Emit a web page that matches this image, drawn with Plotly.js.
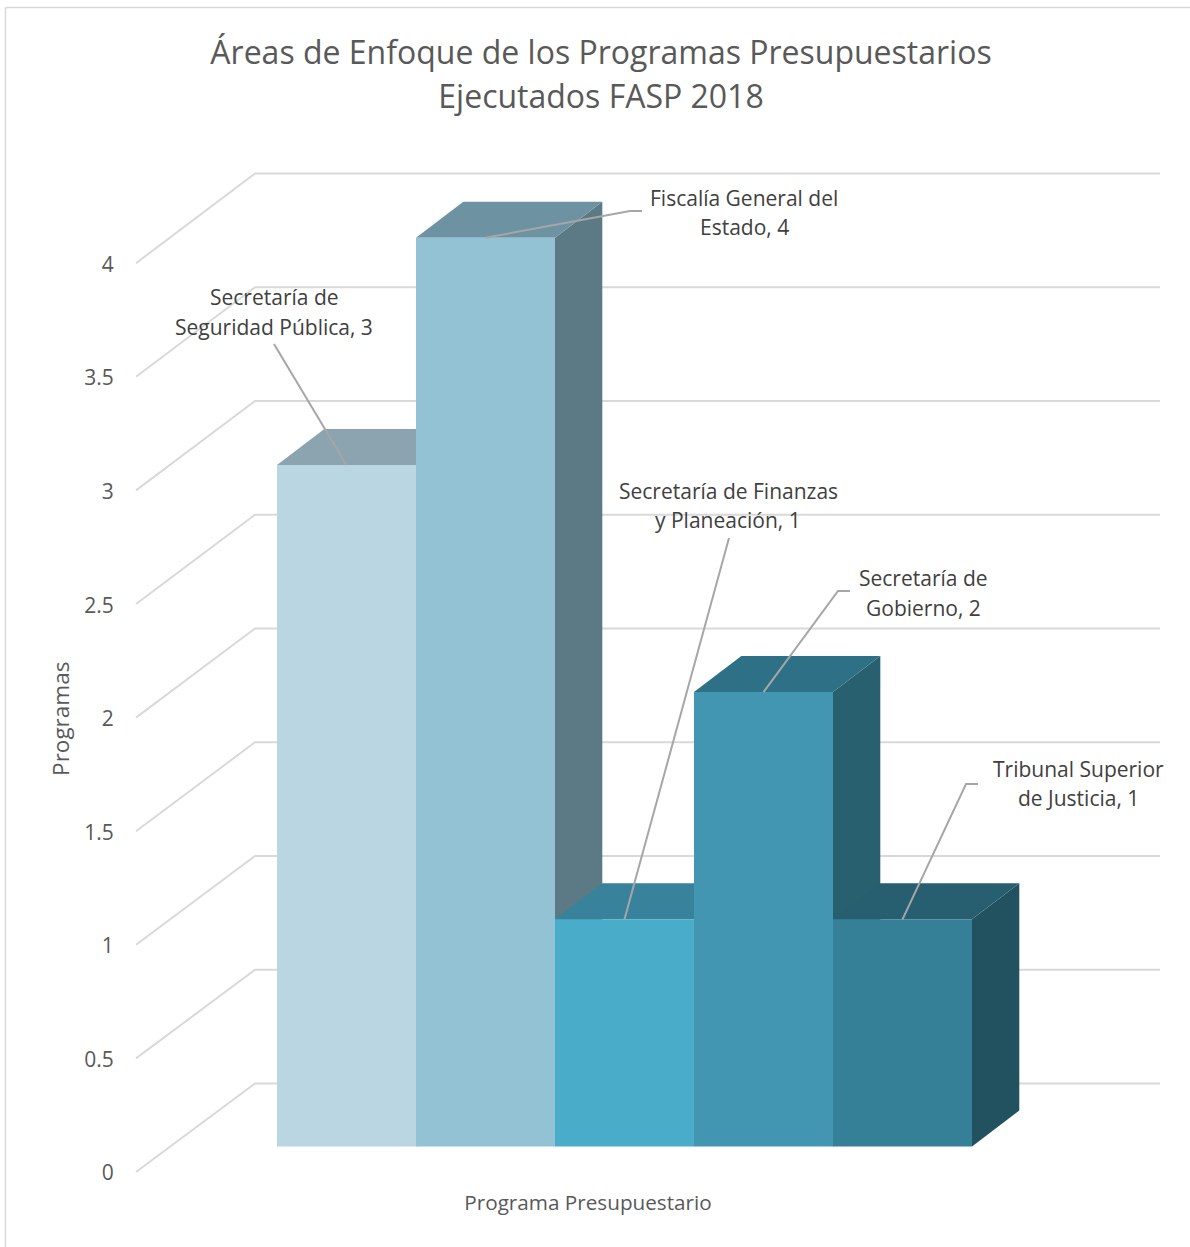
<!DOCTYPE html>
<html>
<head>
<meta charset="utf-8">
<script src="https://cdn.plot.ly/plotly-3.0.1.min.js"></script>
<style>html,body{margin:0;padding:0;background:#fff}#chart{width:1190px;height:1247px}</style>
</head>
<body>
<div id="chart"></div>
<script>
// ---- data ----
const categories = ["Secretaría de Seguridad Pública","Fiscalía General del Estado","Secretaría de Finanzas y Planeación","Secretaría de Gobierno","Tribunal Superior de Justicia"];
const values = [3,4,1,2,1];
const tickValues = [0,0.5,1,1.5,2,2.5,3,3.5,4];
const tickLabels = ["0","0.5","1","1.5","2","2.5","3","3.5","4"];
const labelLines = [
  ["Secretaría de","Seguridad Pública, 3"],
  ["Fiscalía General del","Estado, 4"],
  ["Secretaría de Finanzas","y Planeación, 1"],
  ["Secretaría de","Gobierno, 2"],
  ["Tribunal Superior","de Justicia, 1"]
];
// ---- styles ----
const frontColors = ["#BBD6E3","#93C2D4","#49ACC8","#4296B1","#368097"];
const topColors   = ["#8CA4AF","#6D93A3","#38839B","#2E7186","#275F71"];
const sideColors  = ["#6F8791","#5C7A85","#2F6E82","#286070","#22525F"];
const W = 1190, H = 1247;
const unitX = 139, unitY = 227.2, x0px = 277, y0px = 1146.5;
const toX = p => (p - x0px) / unitX - 0.5;
const toY = p => (y0px - p) / unitY;
const depthX = 47.3 / unitX, depthY = 36 / unitY;
const wallScale = 227.5 / unitY;
const font = "'Open Sans', sans-serif";
const bars = categories.map((_, i) => i);

// leader elbows and label centres, page pixels
const leaderPx = [
  [[274,344]],
  [[630,211],[642,211]],
  [[729,538]],
  [[838,591],[850,591]],
  [[966,784],[978,784]]
];
const labelPx = [[274,297],[744,197.5],[728,490.5],[923,578],[1078,768.5]];

const traces = [];
// wall gridlines
tickValues.forEach(v => {
  traces.push({type:"scatter",mode:"lines",xaxis:"x",yaxis:"y",hoverinfo:"skip",showlegend:false,
    x:[toX(136),toX(255),toX(1160)],
    y:[v-25.5/unitY,v*wallScale+63/unitY,v*wallScale+63/unitY],
    line:{color:"#D9D9D9",width:2}});
});
// top and side faces
bars.forEach(i => {
  const v = values[i], l = i-0.5, r = i+0.5;
  traces.push({type:"scatter",mode:"lines",fill:"toself",fillcolor:sideColors[i],line:{width:0},
    xaxis:"x",yaxis:"y",hoverinfo:"skip",showlegend:false,
    x:[r,r+depthX,r+depthX,r,r],y:[v,v+depthY,depthY,0,v]});
  traces.push({type:"scatter",mode:"lines",fill:"toself",fillcolor:topColors[i],line:{width:0},
    xaxis:"x",yaxis:"y",hoverinfo:"skip",showlegend:false,
    x:[l,r,r+depthX,l+depthX,l],y:[v,v,v+depthY,v+depthY,v]});
});
// front faces
traces.push({type:"bar",x:bars,y:values,width:1,xaxis:"x2",yaxis:"y2",hoverinfo:"skip",showlegend:false,
  marker:{color:frontColors,line:{width:0}}});
// leader lines
bars.forEach(i => {
  traces.push({type:"scatter",mode:"lines",xaxis:"x2",yaxis:"y2",hoverinfo:"skip",showlegend:false,
    x:[i].concat(leaderPx[i].map(p=>toX(p[0]))),
    y:[values[i]].concat(leaderPx[i].map(p=>toY(p[1]))),
    line:{color:"#A6A6A6",width:2}});
});
// carrier for the value axis
traces.push({type:"scatter",mode:"markers",x:[0],y:[0],xaxis:"x3",yaxis:"y3",marker:{opacity:0},hoverinfo:"skip",showlegend:false});

const xr = [toX(0),toX(W)], yr = [toY(H),toY(0)];
const hidden = r => ({range:r,visible:false,fixedrange:true});
const annotations = [];
bars.forEach(i => {
  labelLines[i].forEach((t,k) => {
    annotations.push({xref:"paper",yref:"paper",x:labelPx[i][0]/W,y:1-(labelPx[i][1]+k*29.5)/H,
      xanchor:"center",yanchor:"middle",showarrow:false,text:t,font:{family:font,size:21,color:"#404040"}});
  });
});
const layout = {
  width:W,height:H,autosize:false,margin:{l:0,r:0,t:0,b:0,pad:0},
  paper_bgcolor:"#fff",plot_bgcolor:"rgba(0,0,0,0)",showlegend:false,barmode:"overlay",
  title:{text:"<span style=\"font-size:32px\">Áreas de Enfoque de los Programas Presupuestarios</span><br><span style=\"font-size:32px\">Ejecutados FASP 2018</span>",
    x:601/W,xanchor:"center",y:1-63.5/H,yanchor:"middle",font:{family:font,size:34.3,color:"#595959"}},
  xaxis:Object.assign(hidden(xr),{domain:[0,1]}),
  yaxis:Object.assign(hidden(yr),{domain:[0,1]}),
  xaxis2:Object.assign(hidden(xr),{overlaying:"x"}),
  yaxis2:Object.assign(hidden(yr),{overlaying:"y"}),
  xaxis3:{domain:[136/W,1040/W],anchor:"y3",range:[0,1],showgrid:false,zeroline:false,showline:false,showticklabels:false,ticks:"",
    title:{text:"Programa Presupuestario",standoff:22,font:{family:font,size:20.7,color:"#595959"}}},
  yaxis3:{domain:[(H-1173)/H,(H-264.5)/H],anchor:"x3",range:[0,4],tickvals:tickValues,ticktext:tickLabels,
    showgrid:false,zeroline:false,showline:false,ticks:"outside",ticklen:17,tickcolor:"rgba(0,0,0,0)",
    tickfont:{family:font,size:21,color:"#595959"},
    title:{text:"Programas",standoff:8,font:{family:font,size:22.5,color:"#595959"}}},
  shapes:[
    {type:"line",xref:"paper",yref:"paper",x0:5.5/W,x1:5.5/W,y0:0,y1:1-7.5/H,line:{color:"#D9D9D9",width:1.5}},
    {type:"line",xref:"paper",yref:"paper",x0:5.5/W,x1:1,y0:1-7.5/H,y1:1-7.5/H,line:{color:"#D9D9D9",width:1.5}}
  ],
  annotations:annotations
};
Plotly.newPlot("chart",traces,layout,{displayModeBar:false,staticPlot:true});
</script>
</body>
</html>
